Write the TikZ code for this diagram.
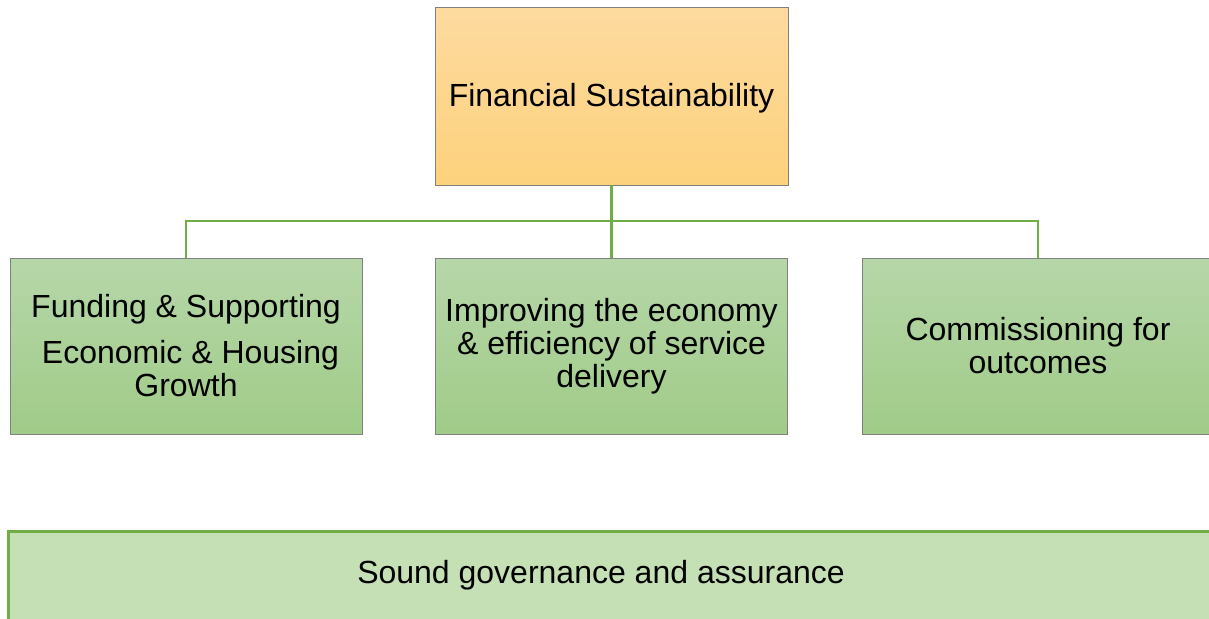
\documentclass[tikz,border=0pt]{standalone}
\usepackage{fontspec}
\setmainfont{Liberation Sans}
\definecolor{orgtop}{HTML}{FDDA9F}
\definecolor{orgbot}{HTML}{FDD27D}
\definecolor{grntop}{HTML}{B6D7A9}
\definecolor{grnbot}{HTML}{A0CB88}
\definecolor{govfill}{HTML}{C5E0B4}
\definecolor{lineg}{HTML}{70AD47}
\definecolor{boxedge}{HTML}{808080}
\begin{document}
\begin{tikzpicture}[x=1pt,y=-1pt,
  every node/.style={font=\fontsize{32}{33}\selectfont, align=center, outer sep=0pt},
  topbox/.style={draw=boxedge, line width=1pt, top color=orgtop, bottom color=orgbot, minimum width=353pt, minimum height=177pt},
  subbox/.style={draw=boxedge, line width=1pt, top color=grntop, bottom color=grnbot, minimum width=352pt, minimum height=176pt},
  govbox/.style={draw=lineg, line width=3pt, fill=govfill, minimum width=1230pt, minimum height=110pt, anchor=north west},
  conn/.style={draw=lineg, line width=2.5pt}]
\useasboundingbox (0,0) rectangle (1209,618);
\node[topbox] (top) at (611.5,96.5) {\raisebox{-2pt}[\height][\depth]{Financial Sustainability}};
\node[subbox] (left) at (186,346) {Funding \& Supporting\\[13pt]\hspace*{8.9pt}Economic \& Housing\\Growth};
\node[subbox] (mid) at (611.5,346) {Improving the economy\\\& efficiency of service\\delivery};
\node[subbox] (right) at (1038,346) {Commissioning for\\outcomes};
\coordinate (bus) at (612,221);
\draw[conn] (top.south) -- (mid.north);
\draw[conn] (left.north) -- (left.north |- bus) -- (right.north |- bus) -- (right.north);
\node[govbox] (gov) at (8,531) {};
\node (govtext) at (601,575) {Sound governance and assurance};
\end{tikzpicture}
\end{document}
